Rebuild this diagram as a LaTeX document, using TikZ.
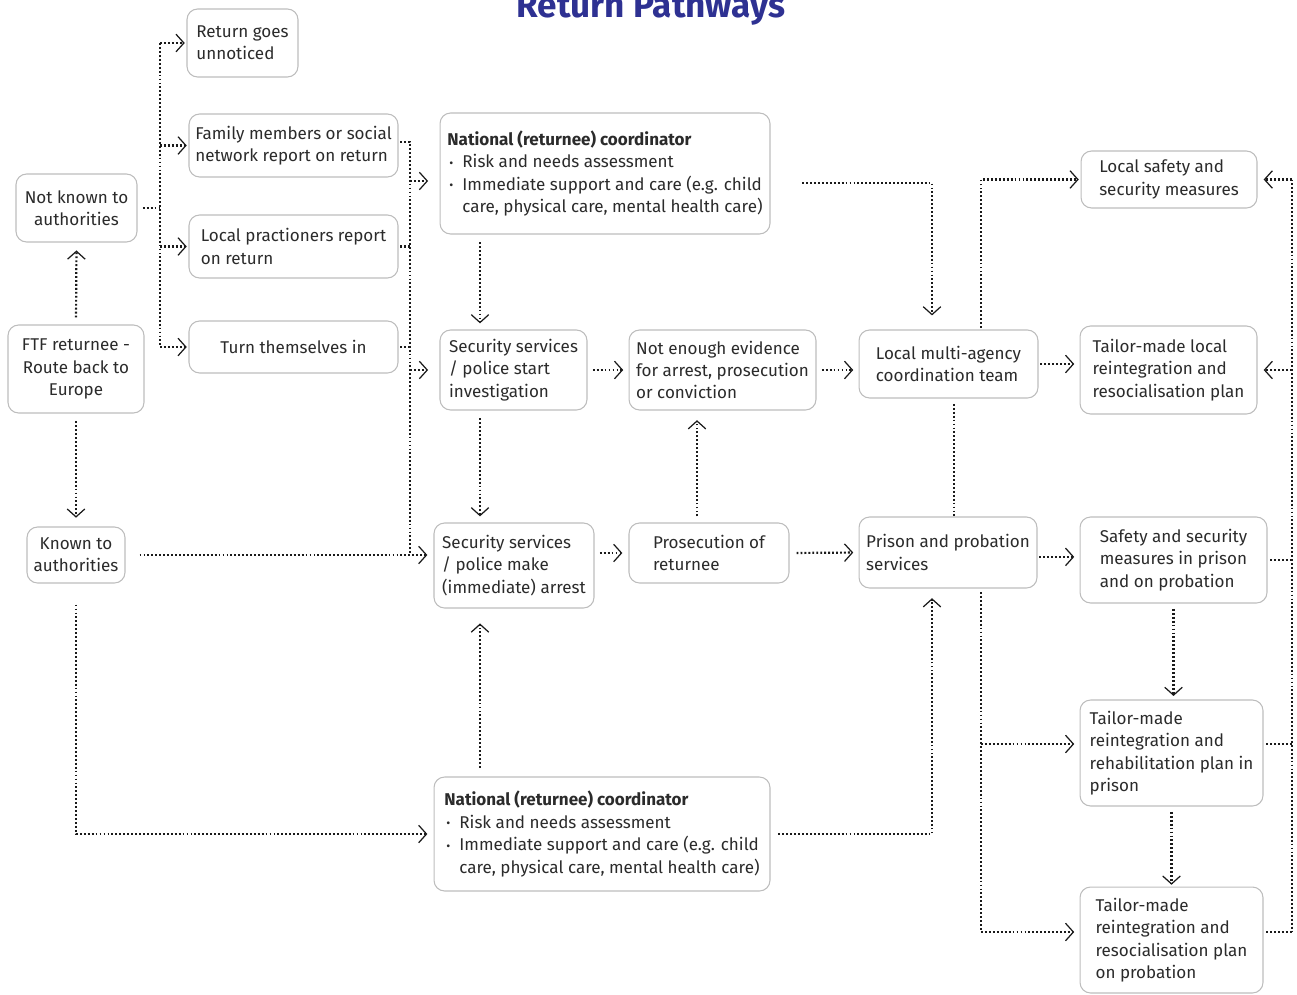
\documentclass[tikz,border=0pt]{standalone}
\usepackage{fontspec}
\setmainfont{Fira Sans}
\usetikzlibrary{arrows.meta}
\definecolor{ectext}{HTML}{2B2B2B}
\definecolor{ecline}{HTML}{BDBDBD}
\definecolor{ecdots}{HTML}{1A1A1A}
\definecolor{ecblue}{HTML}{2E3192}
\newcommand{\bul}{\makebox[0.3cm][l]{\hspace{0.04cm}\raisebox{0.4pt}{\scriptsize •}}}
\newcommand{\natcoord}{{\bfseries National (returnee) coordinator}\\
  \bul Risk and needs assessment\\
  \bul Immediate support and care (e.g. child\\
  \hspace*{0.3cm}care, physical care, mental health care)}

\begin{document}
\begin{tikzpicture}[x=0.02cm,y=-0.02cm,
    pbox/.style={draw=ecline,line width=0.6pt,rounded corners=6pt,fill=white,text=ectext,
      align=left,inner sep=2pt,font=\fontsize{9.7}{12.75}\selectfont},
    dots/.style={draw=ecdots,line width=1.25pt,dash pattern=on 1.05pt off 1.2pt},
    link/.style={dots,-{Straight Barb[length=4.5pt,width=10pt,line width=0.7pt]},
      shorten >=3pt,shorten <=3pt}]
    \useasboundingbox (0,0) rectangle (1297,994);

    \node[font=\fontsize{20}{24}\selectfont\bfseries,text=ecblue,anchor=base] (title) at (651,17) {Return Pathways};

    % left column
    \node[pbox,align=center,minimum width=2.42cm,minimum height=1.36cm] (nk) at (76.5,208) {Not known to\\authorities};
    \node[pbox,align=center,minimum width=2.72cm,minimum height=1.76cm] (ftf) at (76,369) {FTF returnee -\\Route back to\\Europe};
    \node[pbox,align=center,minimum width=1.96cm,minimum height=1.12cm] (kn) at (76,555) {Known to\\authorities};

    % ways of return
    \node[pbox,minimum width=2.22cm,minimum height=1.36cm] (ret) at (242.5,43) {Return goes\\unnoticed};
    \node[pbox,minimum width=4.18cm,minimum height=1.26cm] (fam) at (293.5,145.5) {Family members or social\\network report on return};
    \node[pbox,minimum width=4.18cm,minimum height=1.26cm] (loc) at (293.5,246.5) {Local practioners report\\on return};
    \node[pbox,minimum width=4.18cm,minimum height=1.04cm] (turn) at (293.5,347) {Turn themselves in};

    % authorities
    \node[pbox,minimum width=6.6cm,minimum height=2.42cm] (nat1) at (605,173.5) {\natcoord};
    \node[pbox,minimum width=2.94cm,minimum height=1.6cm] (inv) at (513.5,370) {Security services\\/ police start\\investigation};
    \node[pbox,minimum width=3.74cm,minimum height=1.6cm] (noev) at (722.5,370) {Not enough evidence\\for arrest, prosecution\\or conviction};
    \node[pbox,minimum width=3.2cm,minimum height=1.7cm] (arr) at (514,565.5) {Security services\\/ police make\\(immediate) arrest};
    \node[pbox,minimum width=3.2cm,minimum height=1.2cm] (pros) at (709,553) {Prosecution of\\returnee};
    \node[pbox,minimum width=6.72cm,minimum height=2.28cm] (nat2) at (602,834) {\natcoord};

    % local level
    \node[pbox,minimum width=3.58cm,minimum height=1.36cm] (lmat) at (948.5,364) {Local multi-agency\\coordination team};
    \node[pbox,minimum width=3.56cm,minimum height=1.42cm] (pps) at (948,552.5) {Prison and probation\\services};
    \node[pbox,minimum width=3.52cm,minimum height=1.14cm] (lss) at (1169,179.5) {Local safety and\\security measures};
    \node[pbox,minimum width=3.54cm,minimum height=1.76cm] (tml) at (1168.5,370) {Tailor-made local\\reintegration and\\resocialisation plan};
    \node[pbox,minimum width=3.74cm,minimum height=1.72cm] (ssp) at (1173.5,560) {Safety and security\\measures in prison\\and on probation};
    \node[pbox,minimum width=3.66cm,minimum height=2.12cm] (trp) at (1171.5,753) {Tailor-made\\reintegration and\\rehabilitation plan in\\prison};
    \node[pbox,minimum width=3.66cm,minimum height=2.12cm] (tpr) at (1171.5,940) {Tailor-made\\reintegration and\\resocialisation plan\\on probation};

    % trunk lines
    \coordinate (lt) at (160,0);
    \coordinate (mt) at (410,0);
    \coordinate (vx) at (480,0);
    \coordinate (px) at (697,0);
    \coordinate (rx) at (932,0);
    \coordinate (cx) at (954,0);
    \coordinate (bx) at (981,0);
    \coordinate (fx) at (1292,0);

    \draw[dots,shorten <=3pt] (nk.east) -- (nk.east -| lt);
    \draw[dots] (lt |- ret.west) -- (lt |- turn.west);
    \foreach \n in {ret,fam,loc,turn}
      \draw[link,shorten <=0pt,shorten >=1pt] (lt |- \n.west) -- (\n.west);

    \draw[link,shorten <=4pt,shorten >=4.5pt] (ftf.north) -- (nk.south);
    \draw[link,shorten <=4.5pt,shorten >=5pt] (ftf.south) -- (kn.north);

    \draw[dots,shorten <=1pt] ([yshift=2pt]fam.east) -| (mt |- kn.east);
    \draw[dots,shorten <=1pt] (loc.east) -- (loc.east -| mt);
    \draw[dots,shorten <=1pt] (turn.east) -- (turn.east -| mt);
    \draw[link,shorten <=0pt,shorten >=6.5pt] (mt |- 0,181) -- (nat1.west |- 0,181);
    \draw[link,shorten <=0pt,shorten >=6.5pt] (mt |- inv.west) -- (inv.west);
    \draw[link,shorten <=8pt,shorten >=3.5pt] (kn.east) -- (kn.east -| arr.west);

    \draw[link,shorten <=4.5pt,shorten >=3.5pt] (nat1.south -| vx) -- (inv.north -| vx);
    \draw[link,shorten <=4.5pt,shorten >=3.5pt] (inv.south -| vx) -- (arr.north -| vx);
    \draw[link,shorten <=5pt,shorten >=8.5pt] (nat2.north -| vx) -- (arr.south -| vx);
    \draw[link] (inv.east) -- (noev.west);
    \draw[link] (noev.east) -- (noev.east -| lmat.west);
    \draw[link,shorten >=3.5pt] (pros.west -| arr.east) -- (pros.west);
    \draw[link,shorten <=3.5pt,shorten >=5.5pt] (pros.north -| px) -- (noev.south -| px);
    \draw[link,shorten <=4pt] (pros.east) -- (pps.west);

    \draw[link,shorten <=18pt,shorten >=8pt] (nat1.east |- 0,183) -| (rx |- lmat.north);
    \draw[link,shorten <=4.5pt,shorten >=5.5pt] (nat2.east) -| (rx |- pps.south);
    \draw[link,shorten <=12pt,shorten >=3.5pt] (kn.south) |- (nat2.west);

    \draw[link,shorten <=1pt] (lmat.east) -- (lmat.east -| tml.west);
    \draw[link,shorten <=1pt,shorten >=1pt] (lmat.north -| bx) |- (lss.west);
    \draw[dots,shorten <=3pt,shorten >=0pt] (lmat.south -| cx) -- (pps.north -| cx);
    \draw[link,shorten <=1pt] ([yshift=-2.5pt]pps.east) -- ([yshift=-2.5pt]pps.east -| ssp.west);
    \draw[dots,shorten <=2pt] (pps.south -| bx) -- (bx |- 0,932);
    \draw[link,shorten <=0pt] (bx |- 0,744) -- (trp.west |- 0,744);
    \draw[link,shorten <=0pt] (bx |- 0,932) -- (tpr.west |- 0,932);
    \draw[link,shorten <=3pt,shorten >=2pt] (ssp.south) -- (ssp.south |- trp.north);
    \draw[link,shorten <=3pt,shorten >=1pt] (trp.south) -- (trp.south |- tpr.north);

    \draw[dots,shorten <=1.5pt] (ssp.east) -- (ssp.east -| fx);
    \draw[dots,shorten <=1.5pt] (trp.east |- 0,744) -- (fx |- 0,744);
    \draw[dots,shorten <=1.5pt] (tpr.east |- 0,932) -- (fx |- 0,932);
    \draw[dots] (fx |- lss.east) -- (fx |- 0,932);
    \draw[link,shorten <=0pt,shorten >=3.5pt] (fx |- lss.east) -- (lss.east);
    \draw[link,shorten <=0pt,shorten >=3.5pt] (fx |- tml.east) -- (tml.east);
\end{tikzpicture}
\end{document}
